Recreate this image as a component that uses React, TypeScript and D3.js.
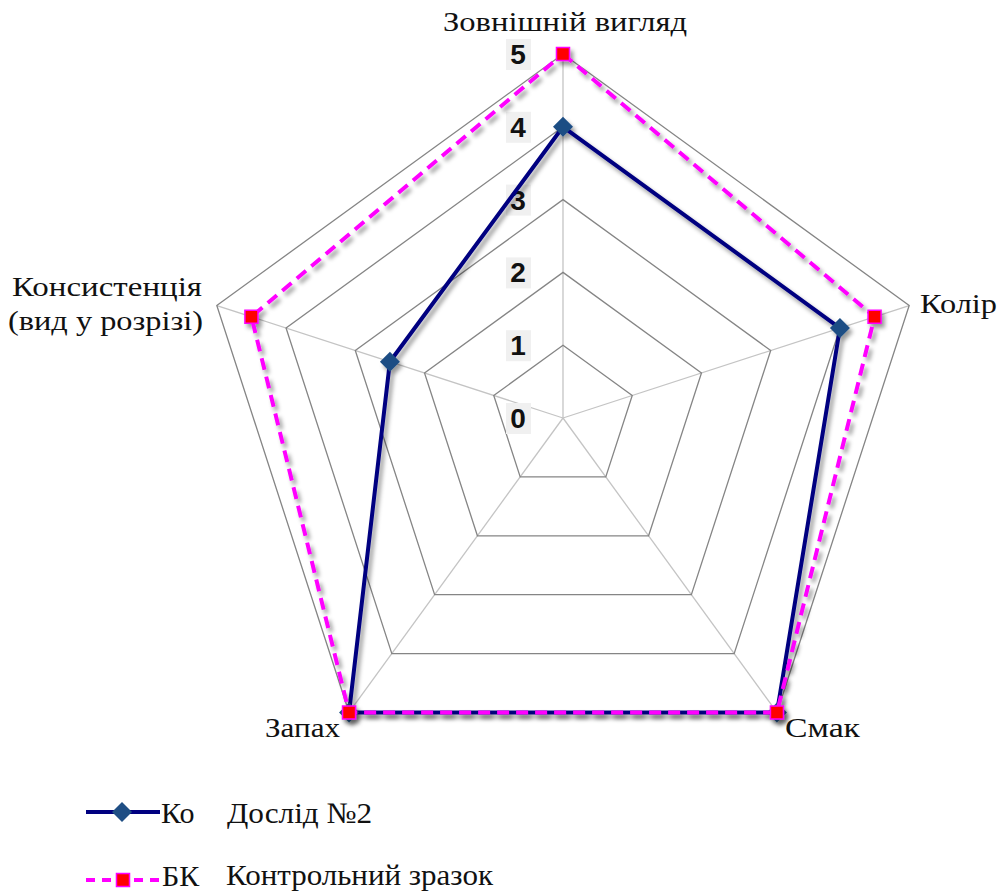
import React from 'react';
import * as d3 from 'd3';

const categories = ['Зовнішній вигляд', 'Колір', 'Смак', 'Запах', 'Консистенція (вид у розрізі)'];
const doslid = [4, 4, 5, 5, 2.5];
const control = [5, 4.5, 5, 5, 4.5];
const ticks = [0, 1, 2, 3, 4, 5];
const seriesNames = ['Дослід №2', 'Контрольний зразок'];
const legendStubs = ['Ко', 'БК'];

const W = 1007;
const H = 894;
const cx = 563;
const cy = 418;
const R = 364;

export default function App() {
  const r = d3.scaleLinear().domain([0, 5]).range([0, R]);
  const angle = d3.scaleLinear().domain([0, categories.length]).range([0, 2 * Math.PI]);

  const radial = d3.lineRadial<number>()
    .angle((_, i) => angle(i))
    .radius(v => r(v))
    .curve(d3.curveLinearClosed);

  const pt = (v: number, i: number) => [r(v) * Math.sin(angle(i)), -r(v) * Math.cos(angle(i))];

  const serif = 'Liberation Serif, Times New Roman, DejaVu Serif, serif';
  const sans = 'Liberation Sans, Arial, sans-serif';

  // diamond = square turned 45 degrees (Excel style)
  const diamond = d3.symbol(d3.symbolSquare, 200)();
  const square = d3.symbol(d3.symbolSquare, 170)();

  return (
    <svg width={W} height={H} style={{ position: 'absolute', left: 0, top: 0, background: '#fff' }}>
      <defs>
        <filter id="shadow" x="-10%" y="-10%" width="130%" height="130%">
          <feDropShadow dx="3" dy="4" stdDeviation="2.2" floodColor="#000" floodOpacity="0.4" />
        </filter>
        <clipPath id="stub">
          <rect x={158} y={780} width={45} height={120} />
        </clipPath>
      </defs>

      <g transform={`translate(${cx},${cy})`}>
        {/* spokes */}
        {categories.map((c, i) => {
          const [x, y] = pt(5, i);
          return <line key={c} x1={0} y1={0} x2={x} y2={y} stroke="#c4c4c4" strokeWidth={1.3} />;
        })}
        {/* rings */}
        {ticks.slice(1).map(t => (
          <path key={t} d={radial(categories.map(() => t)) || ''} fill="none" stroke="#858585" strokeWidth={1.3} />
        ))}

        {/* tick labels */}
        {ticks.map(t => (
          <g key={t} transform={`translate(-46,${-r(t)})`}>
            <rect x={-11} y={-15} width={25} height={31} fill="#f0f0f0" />
            <text x={1} y={10} textAnchor="middle" fontFamily={sans} fontWeight="bold" fontSize={28} fill="#111">{t}</text>
          </g>
        ))}

        {/* Дослід №2 */}
        <g filter="url(#shadow)">
          <path d={radial(doslid) || ''} fill="none" stroke="#000080" strokeWidth={4} strokeLinejoin="round" />
          {doslid.map((v, i) => {
            const [x, y] = pt(v, i);
            return <path key={i} d={diamond || ''} transform={`translate(${x},${y}) rotate(45)`} fill="#1f4e84" />;
          })}
        </g>

        {/* Контрольний зразок */}
        <g filter="url(#shadow)">
          <path d={radial(control) || ''} fill="none" stroke="#ff00ff" strokeWidth={4} strokeDasharray="12 7" />
          {control.map((v, i) => {
            const [x, y] = pt(v, i);
            return <path key={i} d={square || ''} transform={`translate(${x},${y})`} fill="#ff0000" stroke="#ff00ff" strokeWidth={1.5} />;
          })}
        </g>
      </g>

      {/* category labels */}
      <g fontFamily={serif} fontSize={28} fill="#111">
        <text x={443} y={31} textLength={244} lengthAdjust="spacingAndGlyphs">{categories[0]}</text>
        <text x={920} y={313} textLength={77} lengthAdjust="spacingAndGlyphs">{categories[1]}</text>
        <text x={785} y={737} textLength={75} lengthAdjust="spacingAndGlyphs">{categories[2]}</text>
        <text x={265} y={737} textLength={75} lengthAdjust="spacingAndGlyphs">{categories[3]}</text>
        <text x={12} y={296} textLength={190} lengthAdjust="spacingAndGlyphs">Консистенція</text>
        <text x={8} y={330} textLength={195} lengthAdjust="spacingAndGlyphs">(вид у розрізі)</text>
      </g>

      {/* legend */}
      <g>
        <line x1={86} x2={160} y1={812} y2={812} stroke="#000080" strokeWidth={4} />
        <path d={diamond || ''} transform="translate(122,812) rotate(45)" fill="#1f4e84" />
        <line x1={86} x2={160} y1={880} y2={880} stroke="#ff00ff" strokeWidth={4} strokeDasharray="9 7" />
        <path d={square || ''} transform="translate(123,880)" fill="#ff0000" stroke="#ff00ff" strokeWidth={1.5} />
        <g clipPath="url(#stub)" fontFamily={serif} fontSize={30} fill="#111">
          <text x={161} y={823}>{legendStubs[0]}</text>
          <text x={162} y={886}>{legendStubs[1]}</text>
        </g>
        <g fontFamily={serif} fontSize={30} fill="#111">
          <text x={227} y={823} textLength={145} lengthAdjust="spacingAndGlyphs">{seriesNames[0]}</text>
          <text x={226} y={885} textLength={267} lengthAdjust="spacingAndGlyphs">{seriesNames[1]}</text>
        </g>
      </g>
    </svg>
  );
}
